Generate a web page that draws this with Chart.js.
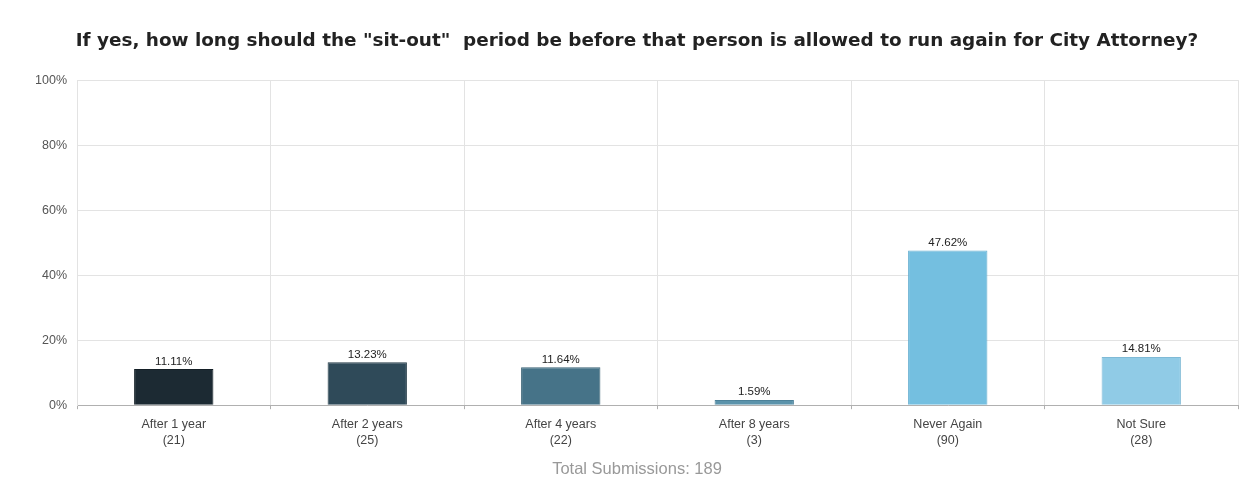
<!DOCTYPE html>
<html>
<head>
<meta charset="utf-8">
<script src="https://cdn.jsdelivr.net/npm/chart.js@4"></script>
<style>
  html, body { margin: 0; padding: 0; background: #fff; }
  #wrap { width: 1248px; height: 481px; }
</style>
</head>
<body>
<div id="wrap"><canvas id="sitOutChart"></canvas></div>
<script>
const categories = ['After 1 year', 'After 2 years', 'After 4 years', 'After 8 years', 'Never Again', 'Not Sure'];
const counts = [21, 25, 22, 3, 90, 28];
const percents = [11.11, 13.23, 11.64, 1.59, 47.62, 14.81];
const barColors = ['#1c2a33', '#2f4a59', '#467388', '#5b93ab', '#74bfe0', '#90cbe6'];
const borderColors = ['#141f26', '#243b47', '#3a6275', '#4c8199', '#64aed0', '#7fbad6'];
const yTicks = [0, 20, 40, 60, 80, 100];
const totalSubmissions = 189;

// etiquetas em cima das barras
const valorNasBarras = {
    id: 'valorNasBarras',
    afterDatasetsDraw(chart) {
        const ctx = chart.ctx;
        const meta = chart.getDatasetMeta(0);
        ctx.save();
        ctx.font = '11.5px "Liberation Sans", Arial, sans-serif';
        ctx.fillStyle = '#222';
        ctx.textAlign = 'center';
        ctx.textBaseline = 'bottom';
        meta.data.forEach((bar, i) => {
            ctx.fillText(percents[i].toFixed(2) + '%', bar.x, bar.y - 2);
        });
        ctx.restore();
    }
};

const ctx = document.getElementById('sitOutChart').getContext('2d');
new Chart(ctx, {
    type: 'bar',
    data: {
        labels: categories.map((c, i) => [c, '(' + counts[i] + ')']),
        datasets: [{
            data: percents,
            backgroundColor: barColors,
            borderColor: borderColors,
            borderWidth: 1,
            barPercentage: 0.41,
            categoryPercentage: 1
        }]
    },
    options: {
        responsive: true,
        maintainAspectRatio: false,
        animation: false,
        layout: { padding: { left: 36, right: 10, top: 0, bottom: 0 } },
        plugins: {
            legend: { display: false },
            tooltip: { enabled: false },
            title: {
                display: true,
                text: 'If yes, how long should the "sit-out"  period be before that person is allowed to run again for City Attorney?',
                color: '#222',
                font: { family: '"DejaVu Sans", sans-serif', size: 18.4, weight: 'bold' },
                padding: { top: 30, bottom: 28 }
            },
            subtitle: {
                display: true,
                position: 'bottom',
                text: 'Total Submissions: ' + totalSubmissions,
                color: '#999',
                font: { family: '"Liberation Sans", Arial, sans-serif', size: 16.5 },
                padding: { top: 4, bottom: 2 }
            }
        },
        scales: {
            x: {
                grid: { color: '#e3e3e3', offset: true, tickLength: 4, tickColor: '#b0b0b0' },
                border: { color: '#b0b0b0' },
                ticks: {
                    color: '#444',
                    padding: 7,
                    font: { family: '"Liberation Sans", Arial, sans-serif', size: 12.5, lineHeight: 1.28 }
                }
            },
            y: {
                min: 0,
                max: 100,
                afterFit(scale) { scale.width = 41; },
                afterBuildTicks(scale) { scale.ticks = yTicks.map(v => ({ value: v })); },
                grid: { color: '#e3e3e3', drawTicks: false },
                border: { color: '#e3e3e3' },
                ticks: {
                    color: '#555',
                    padding: 10,
                    font: { family: '"Liberation Sans", Arial, sans-serif', size: 12.5 },
                    callback: v => v + '%'
                }
            }
        }
    },
    plugins: [valorNasBarras]
});
</script>
</body>
</html>
